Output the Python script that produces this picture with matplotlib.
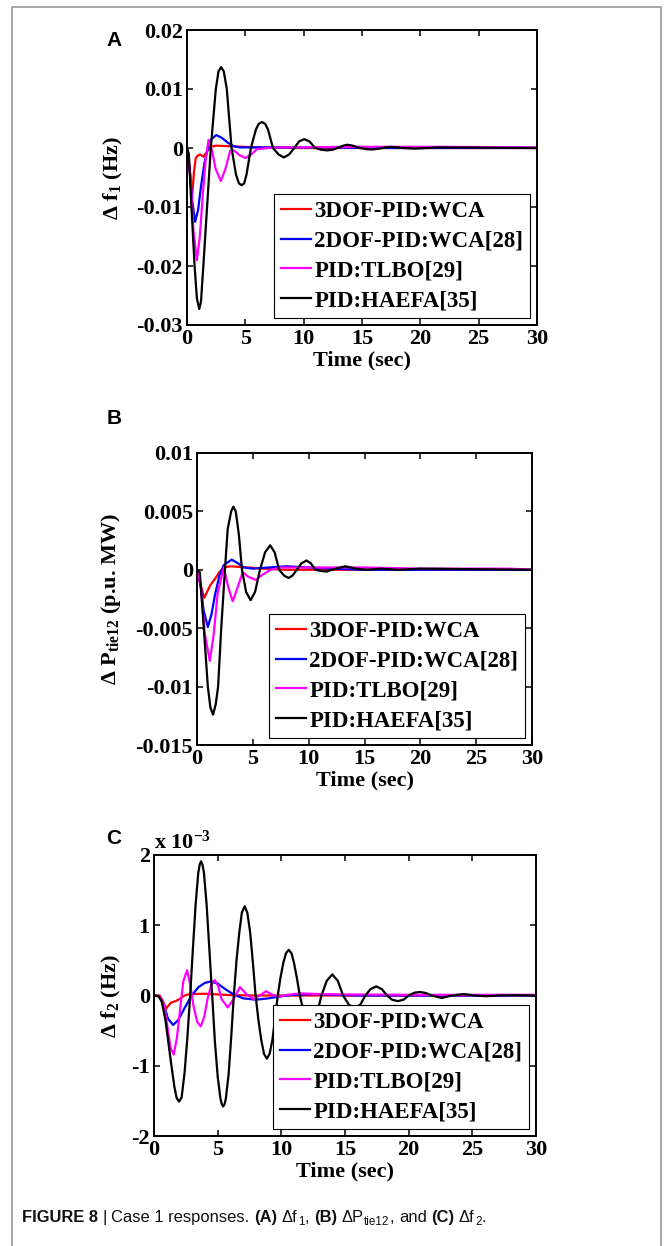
import matplotlib
matplotlib.use('Agg')
import matplotlib.pyplot as plt
from matplotlib.patches import Rectangle
from matplotlib import font_manager

plt.rcParams['font.family'] = 'Liberation Serif'
plt.rcParams['font.weight'] = 'bold'
plt.rcParams['axes.labelweight'] = 'bold'
plt.rcParams['mathtext.fontset'] = 'custom'
plt.rcParams['mathtext.rm'] = 'Liberation Serif:bold'
plt.rcParams['mathtext.it'] = 'Liberation Serif:bold'
plt.rcParams['mathtext.bf'] = 'Liberation Serif:bold'
plt.rcParams['axes.unicode_minus'] = False

LEGEND = ['3DOF-PID:WCA', '2DOF-PID:WCA[28]', 'PID:TLBO[29]', 'PID:HAEFA[35]']
COLORS = ['#ff0000', '#0000ff', '#ff00ff', '#000000']

# (A) delta f1 (Hz) -- (time, value)
A_RED = [(0, 0), (0.15, -0.002), (0.43, -0.0085), (0.6, -0.004), (0.75, -0.0017), (0.91, -0.0013),
         (1.13, -0.0011), (1.4, -0.0015), (1.67, -0.0007), (1.99, 0.0002), (2.5, 0.0004),
         (3.7, 0.0003), (6, 0.0001), (9, 0), (30, 0)]
A_BLUE = [(0, 0), (0.25, -0.004), (0.45, -0.009), (0.7, -0.0125), (0.95, -0.0105), (1.2, -0.0065),
          (1.5, -0.0025), (1.8, 0), (2.1, 0.0015), (2.5, 0.0022), (3.0, 0.0017), (3.5, 0.0009),
          (4.0, 0.0003), (4.5, 0.0001), (8, 0.0001), (12, 0.0001), (16, 0), (30, 0)]
A_MAG = [(0, 0), (0.3, -0.005), (0.55, -0.014), (0.85, -0.019), (1.1, -0.015), (1.35, -0.008),
         (1.6, -0.002), (1.85, 0.0014), (2.15, -0.0005), (2.45, -0.0035), (2.9, -0.0056),
         (3.3, -0.0035), (3.7, -0.0005), (4.0, -0.0004), (4.5, -0.0012), (5.0, -0.0017),
         (5.5, -0.0011), (6.0, -0.0002), (7, 0), (8, 0.0001), (15, 0.0002), (22, 0.0002), (30, 0.0001)]
A_BLACK = [(0, 0), (0.16, -0.001), (0.38, -0.01), (0.65, -0.02), (0.85, -0.0255), (1.05, -0.0273),
           (1.2, -0.026), (1.4, -0.02), (1.72, -0.01), (2.04, 0), (2.47, 0.01), (2.7, 0.013),
           (2.93, 0.0137), (3.15, 0.013), (3.41, 0.01), (3.82, 0), (4.2, -0.0045), (4.45, -0.006),
           (4.68, -0.0063), (4.9, -0.006), (5.1, -0.0045), (5.48, 0), (5.9, 0.0031), (6.15, 0.0041),
           (6.42, 0.0044), (6.7, 0.0041), (6.95, 0.0031), (7.37, 0), (7.85, -0.0011), (8.3, -0.0016),
           (8.75, -0.0011), (9.2, 0), (9.6, 0.0011), (10.05, 0.0015), (10.5, 0.0011), (11.0, 0),
           (11.5, -0.0003), (12.0, -0.0004), (12.5, -0.0003), (13.0, 0.0001), (13.4, 0.0004),
           (13.76, 0.00055), (14.2, 0.0004), (14.8, 0), (15.4, -0.0002), (15.9, -0.00025),
           (16.5, -0.0001), (17.0, 0.0001), (17.5, 0.0002), (18.0, 0.0001), (18.6, 0),
           (19.5, -0.0001), (20.5, 0), (21.5, 0.0001), (30, 0)]

# (B) delta P_tie12 (p.u. MW)
B_RED = [(0, 0), (0.3, -0.0012), (0.65, -0.0024), (0.9, -0.0019), (1.2, -0.0013), (1.6, -0.0008),
         (2.0, -0.0002), (2.4, 0.0002), (3.0, 0.0003), (4.5, 0.0002), (6, 0.0001), (8, 0), (30, 0)]
B_BLUE = [(0, 0), (0.3, -0.0012), (0.6, -0.0035), (0.97, -0.0049), (1.3, -0.0038), (1.6, -0.0022),
          (2.0, -0.0005), (2.4, 0.0004), (3.1, 0.00087), (3.6, 0.0006), (4.2, 0.0002), (5.0, 0.0001),
          (6.5, 0.0002), (8, 0.0003), (10, 0.0002), (12, 0.0001), (15, 0), (30, 0)]
B_MAG = [(0, 0), (0.35, -0.0015), (0.7, -0.0055), (1.15, -0.0078), (1.5, -0.0055), (1.85, -0.002),
         (2.4, 0.0002), (2.8, -0.0015), (3.2, -0.0027), (3.6, -0.0016), (4.1, -0.0002),
         (4.6, -0.0006), (5.25, -0.00086), (5.9, -0.0004), (6.6, 0), (7.5, 0.0002), (15, 0.0002),
         (20, 0.0001), (28, 0.0001), (30, 0)]
B_BLACK = [(0, 0), (0.25, -0.0002), (0.61, -0.005), (0.97, -0.01), (1.2, -0.0118), (1.44, -0.0124),
           (1.68, -0.0115), (1.89, -0.01), (2.17, -0.005), (2.5, 0), (2.75, 0.0035), (3.06, 0.005),
           (3.25, 0.0054), (3.47, 0.005), (3.75, 0.003), (4.03, 0), (4.4, -0.0019), (4.8, -0.0026),
           (5.2, -0.0019), (5.64, 0), (6.1, 0.0015), (6.55, 0.0021), (6.95, 0.0015), (7.36, 0),
           (7.8, -0.0005), (8.2, -0.0007), (8.55, -0.0005), (8.94, 0), (9.35, 0.00055), (9.8, 0.0008),
           (10.2, 0.00055), (10.6, 0), (11.1, -0.0001), (11.6, -0.00015), (12.4, 0.0001),
           (13.3, 0.0003), (14.2, 0.0001), (15.2, 0), (16.5, 0.0001), (18, 0), (20, 0.0001), (30, 0)]

# (C) delta f2 (Hz), in units of 1e-3
C_RED = [(0, 0), (0.45, 0), (0.7, -0.08), (0.95, -0.19), (1.1, -0.15), (1.35, -0.1), (1.7, -0.08),
         (2.0, -0.05), (2.4, 0), (2.8, 0.02), (4, 0.025), (5, 0.015), (6, 0.005), (8, 0), (30, 0)]
C_BLUE = [(0, 0), (0.4, -0.01), (0.8, -0.15), (1.1, -0.33), (1.5, -0.42), (1.9, -0.35), (2.4, -0.18),
          (2.95, 0), (3.5, 0.12), (4.0, 0.18), (4.45, 0.2), (5.0, 0.17), (5.6, 0.09), (6.3, 0.01),
          (7.0, -0.04), (8.0, -0.06), (9.0, -0.04), (10, -0.01), (11, 0.01), (12.5, 0.02), (14, 0.01),
          (16, 0), (30, 0)]
C_MAG = [(0, 0), (0.5, -0.02), (0.8, -0.15), (1.1, -0.5), (1.3, -0.75), (1.55, -0.84), (1.8, -0.6),
         (2.05, -0.2), (2.3, 0.2), (2.6, 0.36), (2.85, 0.15), (3.1, -0.15), (3.4, -0.38), (3.67, -0.44),
         (3.95, -0.3), (4.2, -0.05), (4.5, 0.15), (4.77, 0.22), (5.05, 0.13), (5.3, -0.05),
         (5.8, -0.17), (6.25, -0.05), (6.75, 0.12), (7.25, 0.02), (7.8, -0.05), (8.3, 0), (8.8, 0.06),
         (9.3, 0.01), (9.8, -0.02), (10.5, 0.01), (11.5, 0.03), (13, 0.02), (15, 0.015), (20, 0.01),
         (30, 0.01)]
C_BLACK = [(0, 0), (0.35, -0.01), (0.6, -0.08), (0.9, -0.35), (1.15, -0.7), (1.37, -1.0), (1.6, -1.3),
           (1.78, -1.46), (1.97, -1.51), (2.17, -1.45), (2.4, -1.1), (2.62, -0.6), (2.84, 0),
           (3.05, 0.65), (3.27, 1.3), (3.48, 1.75), (3.6, 1.87), (3.7, 1.91), (3.8, 1.87), (3.92, 1.75),
           (4.13, 1.3), (4.35, 0.65), (4.57, 0), (4.78, -0.65), (5.0, -1.15), (5.22, -1.47),
           (5.33, -1.55), (5.43, -1.58), (5.54, -1.55), (5.64, -1.47), (5.86, -1.12), (6.06, -0.6),
           (6.27, 0), (6.48, 0.5), (6.7, 0.9), (6.9, 1.18), (7.12, 1.27), (7.33, 1.18), (7.55, 0.9),
           (7.76, 0.48), (7.98, 0), (8.2, -0.35), (8.42, -0.63), (8.64, -0.83), (8.86, -0.9),
           (9.08, -0.83), (9.3, -0.63), (9.5, -0.34), (9.72, 0), (9.93, 0.25), (10.15, 0.46),
           (10.36, 0.6), (10.58, 0.65), (10.8, 0.6), (11.0, 0.46), (11.22, 0.25), (11.45, 0),
           (11.88, -0.32), (12.3, -0.45), (12.72, -0.32), (13.15, 0), (13.57, 0.21), (14.0, 0.3),
           (14.43, 0.21), (14.85, 0), (15.3, -0.13), (15.75, -0.18), (16.2, -0.13), (16.6, 0),
           (17.0, 0.09), (17.45, 0.13), (17.9, 0.09), (18.3, 0), (18.7, -0.06), (19.15, -0.08),
           (19.6, -0.06), (20.0, 0), (20.45, 0.04), (20.9, 0.05), (21.35, 0.035), (21.8, 0),
           (22.6, -0.035), (23.4, 0), (24.3, 0.02), (25.2, 0), (26.1, -0.01), (27, 0), (28, 0.005),
           (30, 0)]

XTICKS = [0, 5, 10, 15, 20, 25, 30]
A_YTICKS = [-0.03, -0.02, -0.01, 0, 0.01, 0.02]
A_YLABELS = ['-0.03', '-0.02', '-0.01', '0', '0.01', '0.02']
B_YTICKS = [-0.015, -0.01, -0.005, 0, 0.005, 0.01]
B_YLABELS = ['-0.015', '-0.01', '-0.005', '0', '0.005', '0.01']
C_YTICKS = [-2, -1, 0, 1, 2]
C_YLABELS = ['-2', '-1', '0', '1', '2']

W, H = 664, 1246
fig = plt.figure(figsize=(W / 100, H / 100), dpi=100)
fig.patch.set_facecolor('white')


def px_rect(left, top, right, bottom):
    return [left / W, 1 - bottom / H, (right - left) / W, (bottom - top) / H]


def panel(rect, curves, ylim, yticks, ylabels, ylabel, ylabel_x):
    ax = fig.add_axes(rect)
    for pts, color, name in zip(curves, COLORS, LEGEND):
        t = [p[0] for p in pts]
        v = [p[1] for p in pts]
        ax.plot(t, v, color=color, lw=1.6, label=name)
    ax.set_xlim(0, 30)
    ax.set_ylim(*ylim)
    ax.set_xticks(XTICKS)
    ax.set_xticklabels([str(x) for x in XTICKS])
    ax.set_yticks(yticks)
    ax.set_yticklabels(ylabels)
    ax.tick_params(direction='in', top=True, right=True, length=4, width=1.1,
                   labelsize=16, pad=3)
    for s in ax.spines.values():
        s.set_linewidth(1.4)
    ax.set_xlabel('Time (sec)', fontsize=16, labelpad=1)
    ax.set_ylabel(ylabel, fontsize=16)
    ax.yaxis.set_label_coords(ylabel_x, 0.5)
    leg = ax.legend(loc='lower right', fancybox=False, edgecolor='black', framealpha=1,
                    fontsize=16.5, handlelength=1.3, handletextpad=0.15, borderpad=0.3,
                    borderaxespad=0.3, labelspacing=0.38)
    leg.get_frame().set_linewidth(0.8)
    return ax


panel(px_rect(187, 30, 537, 325), [A_RED, A_BLUE, A_MAG, A_BLACK], (-0.03, 0.02),
      A_YTICKS, A_YLABELS, 'Δ f$_1$ (Hz)', -0.177)
panel(px_rect(197, 453, 532, 745), [B_RED, B_BLUE, B_MAG, B_BLACK], (-0.015, 0.01),
      B_YTICKS, B_YLABELS, 'Δ P$_{\\rm tie12}$ (p.u. MW)', -0.221)
axc = panel(px_rect(154, 855, 536, 1136), [C_RED, C_BLUE, C_MAG, C_BLACK], (-2, 2),
            C_YTICKS, C_YLABELS, 'Δ f$_2$ (Hz)', -0.081)
axc.text(0.0, 1.005, 'x 10$^{-3}$', transform=axc.transAxes, ha='left', va='bottom', fontsize=16)

# panel tags
for tag, x, y in [('A', 114, 41), ('B', 114, 418), ('C', 114, 838)]:
    fig.text(x / W, 1 - y / H, tag, family='Liberation Sans', weight='bold', fontsize=15,
             ha='center', va='center')

# page frame
fig.add_artist(Rectangle((12 / W, -0.05), (661 - 12) / W, 1.05 - 7 / H, transform=fig.transFigure,
                         fill=False, edgecolor='#9a9a9a', lw=1.2))

# caption, drawn piece by piece
names = {f.name for f in font_manager.fontManager.ttflist}
cap_family = 'Liberation Sans Narrow' if 'Liberation Sans Narrow' in names else 'Liberation Sans'
cap_size = 14 if cap_family == 'Liberation Sans Narrow' else 11.9
renderer = fig.canvas.get_renderer()
gap = 4
runs = [('FIGURE 8', 'bold', 0), (None, None, gap), ('|', 'normal', 0), (None, None, gap),
        ('Case 1 responses.', 'normal', 0), (None, None, gap), ('(A)', 'bold', 0),
        (None, None, gap), ('Δf', 'normal', 0), ('1', 'sub', 0), (',', 'normal', 0),
        (None, None, gap), ('(B)', 'bold', 0), (None, None, gap), ('ΔP', 'normal', 0),
        ('tie12', 'sub', 0), (',', 'normal', 0), (None, None, gap), ('and', 'normal', 0),
        (None, None, gap), ('(C)', 'bold', 0), (None, None, gap), ('Δf', 'normal', 0),
        ('2', 'sub', 0), ('.', 'normal', 0)]
x = 22.0
base = 1222.0
for txt, style, extra in runs:
    if txt is None:
        x += extra
        continue
    size = cap_size * 0.7 if style == 'sub' else cap_size
    y = base + 3 if style == 'sub' else base
    weight = 'bold' if style == 'bold' else 'normal'
    t = fig.text(x / W, 1 - y / H, txt, family=cap_family, weight=weight, fontsize=size,
                 ha='left', va='baseline', color='#111111')
    bb = t.get_window_extent(renderer)
    x += bb.width + 0.5

fig.savefig('out.png', dpi=100, facecolor='white')
